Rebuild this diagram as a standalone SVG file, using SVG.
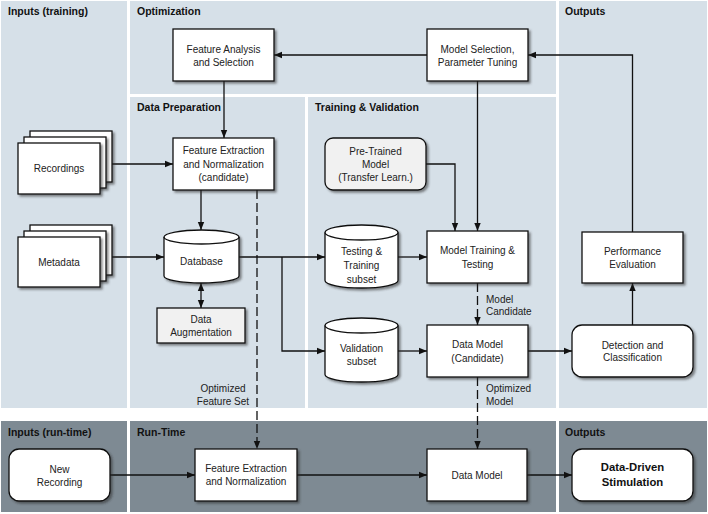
<svg xmlns="http://www.w3.org/2000/svg" width="708" height="514" viewBox="0 0 708 514">
<defs>
<style>
.pl{fill:#d6e0e8}
.pd{fill:#7e8a93}
.h{font-family:"Liberation Sans",Arial,sans-serif;font-size:10.5px;font-weight:bold;fill:#111}
.t{font-family:"Liberation Sans",Arial,sans-serif;font-size:10px;fill:#222;text-anchor:middle}
.tl{font-family:"Liberation Sans",Arial,sans-serif;font-size:10px;fill:#222}
.tb{font-family:"Liberation Sans",Arial,sans-serif;font-size:11.3px;font-weight:bold;fill:#111;text-anchor:middle}
.n{fill:#fff;stroke:#111;stroke-width:1.3}
.g{fill:#f1f1f1;stroke:#111;stroke-width:1.3}
.c{fill:none;stroke:#111;stroke-width:1.3}
.d{fill:none;stroke:#111;stroke-width:1.3;stroke-dasharray:9 4}
</style>
<filter id="sh" x="-10%" y="-10%" width="130%" height="140%">
<feDropShadow dx="2" dy="2" stdDeviation="1" flood-color="#333" flood-opacity="0.55"/>
</filter>
<marker id="a" markerUnits="userSpaceOnUse" markerWidth="8" markerHeight="8" viewBox="0 0 8 8" refX="8" refY="4" orient="auto-start-reverse">
<path d="M0,0.8 L8,4 L0,7.2 Z" fill="#111"/>
</marker>
</defs>

<g id="panels">
<rect class="pl" x="1" y="1" width="126" height="407"/>
<rect class="pl" x="130" y="1" width="426" height="93"/>
<rect class="pl" x="130" y="97" width="175" height="311"/>
<rect class="pl" x="308" y="97" width="248" height="311"/>
<rect class="pl" x="559" y="1" width="148" height="407"/>
<rect class="pd" x="1" y="421" width="126" height="91"/>
<rect class="pd" x="130" y="421" width="426" height="91"/>
<rect class="pd" x="559" y="421" width="148" height="91"/>
<text class="h" x="8" y="15">Inputs (training)</text>
<text class="h" x="137" y="15">Optimization</text>
<text class="h" x="565" y="15">Outputs</text>
<text class="h" x="137" y="111">Data Preparation</text>
<text class="h" x="315" y="111">Training &amp; Validation</text>
<text class="h" x="8" y="436">Inputs (run-time)</text>
<text class="h" x="137" y="436">Run-Time</text>
<text class="h" x="565" y="436">Outputs</text>
</g>

<g id="connectors">
<line class="c" x1="427" y1="55" x2="274" y2="55" marker-end="url(#a)"/>
<polyline class="c" points="632.5,232 632.5,55 528,55" marker-end="url(#a)"/>
<line class="c" x1="224" y1="81" x2="224" y2="138" marker-end="url(#a)"/>
<line class="c" x1="112" y1="164" x2="173" y2="164" marker-end="url(#a)"/>
<line class="c" x1="106" y1="257" x2="164" y2="257" marker-end="url(#a)"/>
<line class="c" x1="201" y1="190" x2="201" y2="230" marker-end="url(#a)"/>
<line class="c" x1="201" y1="283" x2="201" y2="308" marker-start="url(#a)" marker-end="url(#a)"/>
<line class="c" x1="239" y1="257" x2="325" y2="257" marker-end="url(#a)"/>
<polyline class="c" points="282,257 282,351 325,351" marker-end="url(#a)"/>
<line class="c" x1="398" y1="257" x2="427" y2="257" marker-end="url(#a)"/>
<line class="c" x1="398" y1="351" x2="427" y2="351" marker-end="url(#a)"/>
<polyline class="c" points="426,164 455,164 455,231" marker-end="url(#a)"/>
<line class="c" x1="477.5" y1="81" x2="477.5" y2="231" marker-end="url(#a)"/>
<line class="d" x1="477.5" y1="283" x2="477.5" y2="325" marker-end="url(#a)"/>
<line class="c" x1="528" y1="351" x2="572" y2="351" marker-end="url(#a)"/>
<line class="c" x1="632.5" y1="325" x2="632.5" y2="283" marker-end="url(#a)"/>
<line class="d" x1="257" y1="190" x2="257" y2="449" marker-end="url(#a)"/>
<line class="d" x1="477.5" y1="377" x2="477.5" y2="449" marker-end="url(#a)"/>
<line class="c" x1="110" y1="475" x2="195" y2="475" marker-end="url(#a)"/>
<line class="c" x1="297" y1="475" x2="427" y2="475" marker-end="url(#a)"/>
<line class="c" x1="527" y1="475" x2="572" y2="475" marker-end="url(#a)"/>
<text class="tl" x="486" y="302.5">Model</text>
<text class="tl" x="486" y="315">Candidate</text>
<text class="tl" x="486" y="392">Optimized</text>
<text class="tl" x="486" y="404.5">Model</text>
<text class="t" x="223" y="392">Optimized</text>
<text class="t" x="223" y="404.5">Feature Set</text>
</g>

<g id="feature-analysis">
<rect class="n" filter="url(#sh)" x="173" y="29" width="101" height="52"/>
<text class="t" x="223.5" y="52.5">Feature Analysis</text>
<text class="t" x="223.5" y="66">and Selection</text>
</g>
<g id="model-selection">
<rect class="n" filter="url(#sh)" x="427" y="29" width="101" height="52"/>
<text class="t" x="477.5" y="52.5">Model Selection,</text>
<text class="t" x="477.5" y="66">Parameter Tuning</text>
</g>
<g id="recordings">
<rect class="n" filter="url(#sh)" x="30" y="131" width="82" height="51"/>
<rect class="n" filter="url(#sh)" x="24" y="137" width="82" height="51"/>
<rect class="n" filter="url(#sh)" x="18" y="143" width="82" height="51"/>
<text class="t" x="59" y="172">Recordings</text>
</g>
<g id="metadata">
<rect class="n" filter="url(#sh)" x="30" y="225" width="82" height="50"/>
<rect class="n" filter="url(#sh)" x="24" y="231" width="82" height="50"/>
<rect class="n" filter="url(#sh)" x="18" y="237" width="82" height="50"/>
<text class="t" x="59" y="265.5">Metadata</text>
</g>
<g id="feature-extraction-candidate">
<rect class="n" filter="url(#sh)" x="173" y="138" width="101" height="52"/>
<text class="t" x="223.5" y="154.2">Feature Extraction</text>
<text class="t" x="223.5" y="167.7">and Normalization</text>
<text class="t" x="223.5" y="181.2">(candidate)</text>
</g>
<g id="database">
<path class="n" filter="url(#sh)" d="M164,237 A37.5,7 0 0 1 239,237 L239,276 A37.5,7 0 0 1 164,276 Z"/>
<path class="c" d="M164,237 A37.5,7 0 0 0 239,237"/>
<text class="t" x="201.5" y="264.5">Database</text>
</g>
<g id="data-augmentation">
<rect class="g" filter="url(#sh)" x="157" y="308" width="88" height="35"/>
<text class="t" x="201" y="322.5">Data</text>
<text class="t" x="201" y="336">Augmentation</text>
</g>
<g id="pre-trained">
<rect class="g" filter="url(#sh)" x="325" y="138" width="101" height="52" rx="8"/>
<text class="t" x="375.5" y="155">Pre-Trained</text>
<text class="t" x="375.5" y="168">Model</text>
<text class="t" x="375.5" y="181">(Transfer Learn.)</text>
</g>
<g id="testing-training-subset">
<path class="n" filter="url(#sh)" d="M325,232.5 A36.5,7.5 0 0 1 398,232.5 L398,280.5 A36.5,7.5 0 0 1 325,280.5 Z"/>
<path class="c" d="M325,232.5 A36.5,7.5 0 0 0 398,232.5"/>
<text class="t" x="361.5" y="255">Testing &amp;</text>
<text class="t" x="361.5" y="269">Training</text>
<text class="t" x="361.5" y="282.5">subset</text>
</g>
<g id="validation-subset">
<path class="n" filter="url(#sh)" d="M325,325.5 A36.5,7.5 0 0 1 398,325.5 L398,374.5 A36.5,7.5 0 0 1 325,374.5 Z"/>
<path class="c" d="M325,325.5 A36.5,7.5 0 0 0 398,325.5"/>
<text class="t" x="361.5" y="351.8">Validation</text>
<text class="t" x="361.5" y="365.2">subset</text>
</g>
<g id="model-training">
<rect class="n" filter="url(#sh)" x="427" y="231" width="101" height="52"/>
<text class="t" x="477.5" y="254">Model Training &amp;</text>
<text class="t" x="477.5" y="268">Testing</text>
</g>
<g id="data-model-candidate">
<rect class="n" filter="url(#sh)" x="427" y="325" width="101" height="52"/>
<text class="t" x="477.5" y="348">Data Model</text>
<text class="t" x="477.5" y="361.5">(Candidate)</text>
</g>
<g id="detection-classification">
<rect class="n" filter="url(#sh)" x="572" y="325" width="121" height="52" rx="10"/>
<text class="t" x="632.5" y="348.5">Detection and</text>
<text class="t" x="632.5" y="361">Classification</text>
</g>
<g id="performance-evaluation">
<rect class="n" filter="url(#sh)" x="582" y="232" width="101" height="51"/>
<text class="t" x="632.5" y="254.5">Performance</text>
<text class="t" x="632.5" y="268">Evaluation</text>
</g>
<g id="new-recording">
<rect class="n" filter="url(#sh)" x="9" y="449" width="101" height="52" rx="10"/>
<text class="t" x="59.5" y="472.5">New</text>
<text class="t" x="59.5" y="486">Recording</text>
</g>
<g id="feature-extraction-runtime">
<rect class="n" filter="url(#sh)" x="195" y="449" width="102" height="52"/>
<text class="t" x="246" y="472">Feature Extraction</text>
<text class="t" x="246" y="485">and Normalization</text>
</g>
<g id="data-model">
<rect class="n" filter="url(#sh)" x="427" y="449" width="100" height="52"/>
<text class="t" x="477" y="479">Data Model</text>
</g>
<g id="data-driven-stimulation">
<rect class="n" filter="url(#sh)" x="572" y="449" width="121" height="52" rx="10"/>
<text class="tb" x="632.5" y="470.7">Data-Driven</text>
<text class="tb" x="632.5" y="485.7">Stimulation</text>
</g>
</svg>
